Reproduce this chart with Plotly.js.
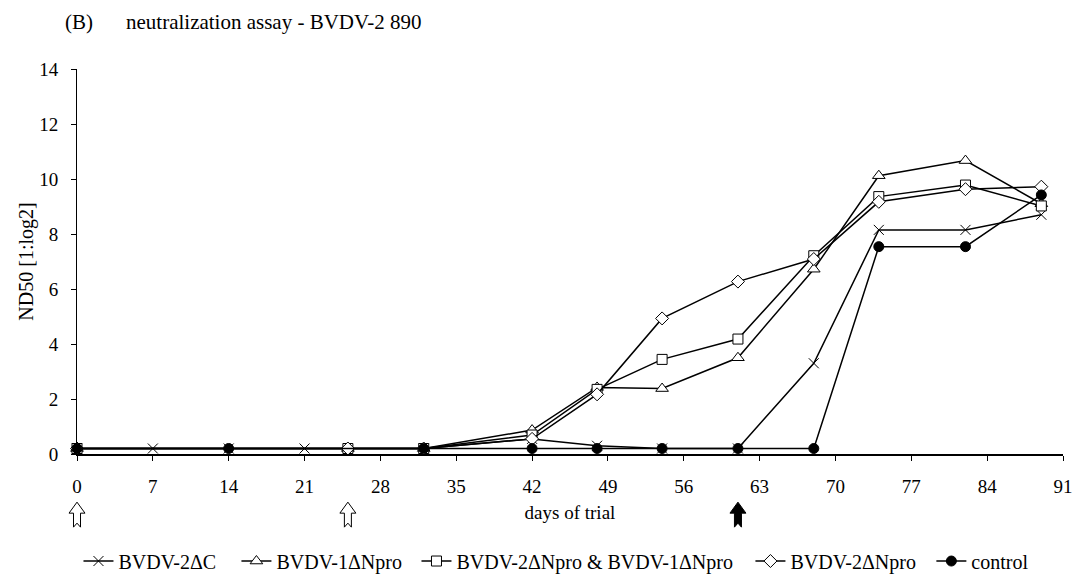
<!DOCTYPE html>
<html>
<head>
<meta charset="utf-8">
<script src="https://cdn.plot.ly/plotly-3.0.1.min.js"></script>
<style>html,body{margin:0;padding:0;background:#fff;}#chart{width:1073px;height:578px;}</style>
</head>
<body>
<div id="chart"></div>
<script>
// ---- data ----
var seriesNames = ["BVDV-2\u0394C", "BVDV-1\u0394Npro", "BVDV-2\u0394Npro & BVDV-1\u0394Npro", "BVDV-2\u0394Npro", "control"];

var daysDeltaC = [0, 7, 14, 21, 32, 42, 48, 54, 61, 68, 74, 82, 89];
var valsDeltaC = [0.2, 0.2, 0.2, 0.2, 0.2, 0.55, 0.3, 0.2, 0.2, 3.3, 8.15, 8.15, 8.7];

var daysB1Npro = [0, 25, 32, 42, 48, 54, 61, 68, 74, 82, 89];
var valsB1Npro = [0.2, 0.2, 0.2, 0.87, 2.42, 2.38, 3.5, 6.72, 10.12, 10.67, 9.1];

var daysCombo = [0, 25, 32, 42, 48, 54, 61, 68, 74, 82, 89];
var valsCombo = [0.2, 0.2, 0.2, 0.69, 2.35, 3.44, 4.18, 7.21, 9.36, 9.78, 9.02];

var daysB2Npro = [0, 25, 32, 42, 48, 54, 61, 68, 74, 82, 89];
var valsB2Npro = [0.2, 0.2, 0.2, 0.55, 2.17, 4.93, 6.27, 7.09, 9.17, 9.63, 9.72];

var daysControl = [0, 14, 32, 42, 48, 54, 61, 68, 74, 82, 89];
var valsControl = [0.2, 0.2, 0.2, 0.2, 0.2, 0.2, 0.2, 0.2, 7.54, 7.54, 9.42];

var xRange = [0, 91];
var yRange = [0, 14];
var xTickVals = [0, 7, 14, 21, 28, 35, 42, 49, 56, 63, 70, 77, 84, 91];
var yTickVals = [0, 2, 4, 6, 8, 10, 12, 14];

// vaccination / challenge days (arrows under the axis)
var arrowDays = [0, 25, 61];
var arrowFilled = [false, false, true];

// ---- styling ----
var FONT = "Liberation Serif, Times New Roman, serif";
var lineStyle = {color: "#000", width: 1.5};

function tr(x, y, name, sym, size, fill, legendId) {
  return {
    type: "scatter", mode: "lines+markers", x: x, y: y, name: name,
    line: lineStyle, cliponaxis: false, legend: legendId,
    marker: {symbol: sym, size: size, color: fill, line: {color: "#000", width: 1}}
  };
}

var traces = [
  tr(daysDeltaC, valsDeltaC, seriesNames[0], "x-thin-open", 10, "#000", "legend"),
  tr(daysB1Npro, valsB1Npro, seriesNames[1], "triangle-up", 11, "#fff", "legend2"),
  tr(daysCombo, valsCombo, seriesNames[2], "square", 10, "#fff", "legend3"),
  tr(daysB2Npro, valsB2Npro, seriesNames[3], "diamond", 10, "#fff", "legend4"),
  tr(daysControl, valsControl, seriesNames[4], "circle", 10, "#000", "legend5")
];

var legendX = [0.0015, 0.1617, 0.3443, 0.683, 0.8665];
function leg(x) {
  return {x: x, xanchor: "left", y: -0.278, yanchor: "middle", orientation: "h",
    font: {family: FONT, size: 20, color: "#000"}, bgcolor: "rgba(0,0,0,0)",
    itemwidth: 30, borderwidth: 0};
}

var shapes = arrowDays.map(function (d, i) {
  return {
    type: "path", xref: "paper", yref: "paper", xsizemode: "pixel", ysizemode: "pixel",
    xanchor: (d - xRange[0]) / (xRange[1] - xRange[0]), yanchor: -0.19, layer: "above",
    path: "M-3.5,0 L-3.5,14 L-8,14 L0,25 L8,14 L3.5,14 L3.5,0 L0,4 Z",
    fillcolor: arrowFilled[i] ? "#000" : "#fff",
    line: {color: "#000", width: 1}
  };
});

var layout = {
  width: 1073, height: 578,
  margin: {l: 76.5, r: 10.4, t: 69.3, b: 124, autoexpand: false},
  paper_bgcolor: "#fff", plot_bgcolor: "#fff",
  font: {family: FONT, size: 19, color: "#000"},
  showlegend: true,
  legend: leg(legendX[0]), legend2: leg(legendX[1]), legend3: leg(legendX[2]),
  legend4: leg(legendX[3]), legend5: leg(legendX[4]),
  xaxis: {
    range: xRange, tickvals: xTickVals, ticks: "outside", ticklen: 5, tickwidth: 1,
    tickcolor: "#000", showline: true, linecolor: "#000", linewidth: 1.5,
    showgrid: false, zeroline: false, ticklabelstandoff: 10,
    tickfont: {family: FONT, size: 19},
    title: {text: "days of trial", font: {family: FONT, size: 19}, standoff: 9}
  },
  yaxis: {
    range: yRange, tickvals: yTickVals, ticks: "outside", ticklen: 5, tickwidth: 1,
    tickcolor: "#000", showline: true, linecolor: "#000", linewidth: 1,
    showgrid: false, zeroline: false, ticklabelstandoff: 9,
    tickfont: {family: FONT, size: 19},
    title: {text: "ND50 [1:log2]", font: {family: FONT, size: 20}, standoff: 0}
  },
  shapes: shapes,
  annotations: [
    {text: "(B)", xref: "paper", yref: "paper", x: -0.0147, y: 1.123, xanchor: "left", yanchor: "middle",
      showarrow: false, font: {family: FONT, size: 21}},
    {text: "neutralization assay - BVDV-2 890", xref: "paper", yref: "paper", x: 0.0472, y: 1.123,
      xanchor: "left", yanchor: "middle", showarrow: false, font: {family: FONT, size: 21}}
  ]
};

Plotly.newPlot("chart", traces, layout, {displayModeBar: false, staticPlot: true});
</script>
</body>
</html>
